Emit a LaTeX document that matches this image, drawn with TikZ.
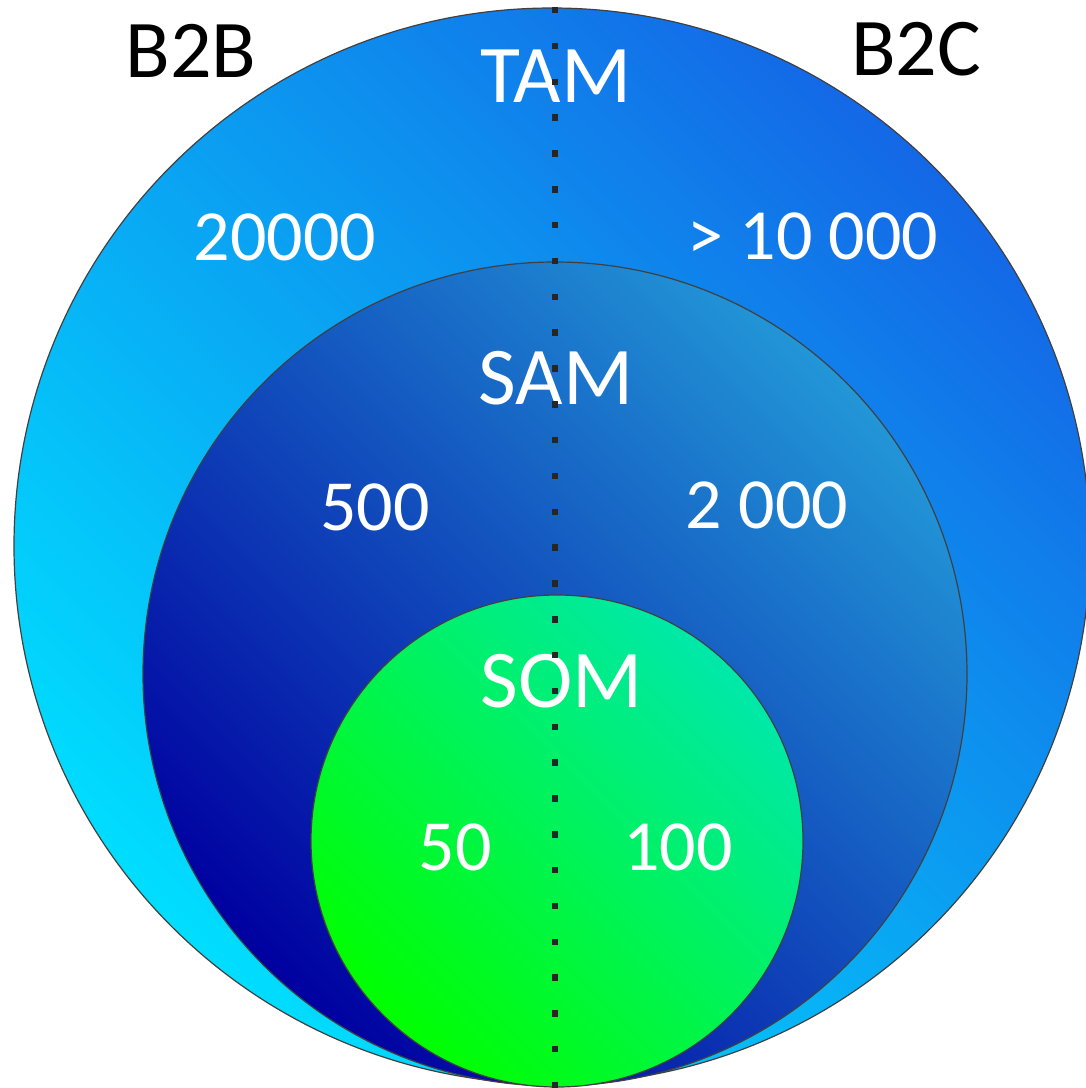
\documentclass[tikz,border=0pt]{standalone}
\usepackage{fontspec}
\setmainfont{Carlito}
\begin{document}
\begin{tikzpicture}[x=0.5pt,y=-0.5pt,
  ring/.style={circle, draw=black!75, line width=0.6pt, inner sep=0pt},
  title/.style={font=\fontsize{41}{48}\selectfont, text=white, inner sep=0pt},
  side/.style={font=\fontsize{41}{48}\selectfont, text=black, inner sep=0pt},
  figure/.style={font=\fontsize{36}{43}\selectfont, text=white, inner sep=0pt},
  divider/.style={draw=black!85, line width=3.2pt, dash pattern=on 3.2pt off 14.715pt}]
\definecolor{tamlow}{RGB}{0,222,255}
\definecolor{tamhigh}{RGB}{20,104,230}
\definecolor{samlow}{RGB}{0,0,160}
\definecolor{samhigh}{RGB}{34,150,215}
\definecolor{somlow}{RGB}{0,255,0}
\definecolor{somhigh}{RGB}{0,232,170}
\useasboundingbox (0,0) rectangle (1086,1088);
\clip (0,0) rectangle (1086,1088);

% nested market circles, shaded from lower left to upper right
\node[ring, minimum size=538pt, left color=tamlow, right color=tamhigh, shading angle=135] (tam) at (552,546) {};
\node[ring, minimum size=412pt, left color=samlow, right color=samhigh, shading angle=135] (sam) at (555,674) {};
\node[ring, minimum size=246pt, left color=somlow, right color=somhigh, shading angle=135] (som) at (557,841) {};

% segment headings
\node[side] (b2b) at (191,51) {B2B};
\node[side] (b2c) at (916,49) {B2C};

% market labels and figures
\node[title] (tamlabel) at (556,76) {TAM};
\node[figure] (tamb2b) at (285,237) {20000};
\node[figure] (tamb2c) at (813,236) {> 10 000};
\node[title] (samlabel) at (556,378) {SAM};
\node[figure] (samb2b) at (375,507) {500};
\node[figure] (samb2c) at (767,505) {2 000};
\node[title] (somlabel) at (562,681) {SOM};
\node[figure] (somb2b) at (455,847) {50};
\node[figure] (somb2c) at (678,847) {100};

% dotted split between B2B and B2C
\coordinate (splittop) at (555,7);
\coordinate (splitbottom) at (555,1088);
\draw[divider] (splittop) -- (splitbottom);
\end{tikzpicture}
\end{document}
